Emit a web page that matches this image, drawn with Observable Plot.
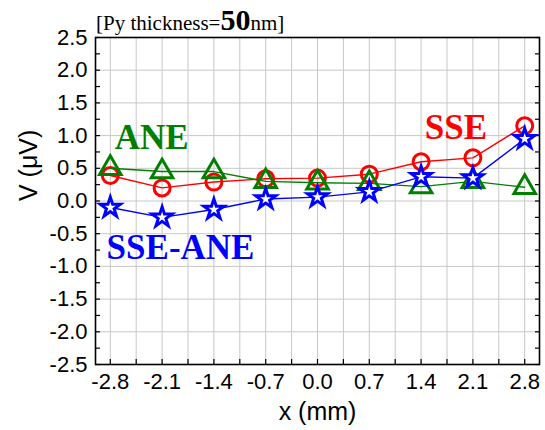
<!DOCTYPE html>
<html><head><meta charset="utf-8">
<script src="https://cdn.jsdelivr.net/npm/d3@7"></script>
<script src="https://cdn.jsdelivr.net/npm/@observablehq/plot@0.6"></script>
<style>
body{margin:0;background:#fff;}
#chart svg{display:block;}
</style></head>
<body><div id="chart"></div>
<script>
// positions along x (mm)
const xs = [-2.8, -2.1, -1.4, -0.7, 0.0, 0.7, 1.4, 2.1, 2.8];
// V (µV)
const sse    = [0.39, 0.20, 0.29, 0.34, 0.35, 0.41, 0.60, 0.66, 1.15];
const ane    = [0.50, 0.45, 0.45, 0.30, 0.28, 0.27, 0.22, 0.30, 0.21];
const sseAne = [-0.10, -0.25, -0.13, 0.03, 0.06, 0.14, 0.37, 0.35, 0.95];

const xTickLabels = xs;
const xGrid = d3.range(-8, 9).map(i => +(i * 0.35).toFixed(2));
const yTickLabels = [-2.5, -2.0, -1.5, -1.0, -0.5, 0.0, 0.5, 1.0, 1.5, 2.0, 2.5];
const yMinor = d3.range(-10, 11).map(i => i * 0.25);

const xTitle = "x (mm)";
const yTitle = "V (μV)";
const seriesNames = ["SSE", "ANE", "SSE-ANE"];
const seriesColors = ["#ff0000", "#008000", "#0000ff"];
const labels = [
  {name: "ANE", x: -2.74, y: 0.97},
  {name: "SSE", x: 1.45, y: 1.12},
  {name: "SSE-ANE", x: -2.85, y: -0.71}
];

const rows = (vals, s) => xs.map((x, i) => ({x, v: vals[i], s}));
const dSSE = rows(sse, "SSE"), dANE = rows(ane, "ANE"), dDiff = rows(sseAne, "SSE-ANE");

const sans = "'Liberation Sans', Arial, sans-serif";
const serif = "'Liberation Serif', 'Times New Roman', serif";
const blank = () => "";

const plot = Plot.plot({
  width: 545, height: 430,
  marginLeft: 95, marginRight: 6, marginTop: 37, marginBottom: 66,
  style: {fontFamily: sans, fontSize: "22px", background: "white", overflow: "visible"},
  x: {domain: [-3, 3]},
  y: {domain: [-2.5, 2.5]},
  color: {domain: seriesNames, range: seriesColors},
  marks: [
    Plot.gridX(xGrid, {stroke: "#c8c8c8", strokeOpacity: 1, strokeWidth: 1}),
    Plot.gridY(yTickLabels, {stroke: "#c8c8c8", strokeOpacity: 1, strokeWidth: 1}),
    // inward ticks (no text)
    Plot.axisX(xGrid, {tickSize: -5, tickFormat: blank, label: null, strokeWidth: 1.2}),
    Plot.axisY(yMinor, {tickSize: -5, tickFormat: blank, label: null, strokeWidth: 1.2}),
    Plot.axisY(yMinor, {anchor: "right", tickSize: -5, tickFormat: blank, label: null, strokeWidth: 1.2}),
    // tick labels
    Plot.axisX(xTickLabels, {tickSize: 0, tickPadding: 9, tickFormat: d => d.toFixed(1), fontSize: 22,
      label: null, fill: "black"}),
    Plot.axisY(yTickLabels, {tickSize: 0, tickPadding: 8, tickFormat: d => d.toFixed(1), fontSize: 22,
      label: null, fill: "black"}),
    // axis titles
    Plot.text([xTitle], {frameAnchor: "bottom", lineAnchor: "middle", dy: 47, fontSize: 25, fontFamily: sans, fill: "black"}),
    Plot.text([yTitle], {frameAnchor: "left", dx: -67, rotate: -90, fontSize: 25, fontFamily: sans, fill: "black"}),
    Plot.frame({stroke: "black", strokeWidth: 1.6}),
    // SSE
    Plot.line(dSSE, {x: "x", y: "v", stroke: "s", strokeWidth: 1.4}),
    Plot.dot(dSSE, {x: "x", y: "v", stroke: "s", symbol: "circle", r: 8, strokeWidth: 3, fill: "none"}),
    // ANE
    Plot.line(dANE, {x: "x", y: "v", stroke: "s", strokeWidth: 1.4}),
    Plot.dot(dANE, {x: "x", y: "v", stroke: "s", symbol: "triangle", r: 8, strokeWidth: 3, fill: "none"}),
    // SSE-ANE
    Plot.line(dDiff, {x: "x", y: "v", stroke: "s", strokeWidth: 1.4}),
    Plot.dot(dDiff, {x: "x", y: "v", stroke: "s", symbol: "star", r: 6.3, strokeWidth: 3, fill: "white"}),
    // series annotations
    Plot.text(labels, {x: "x", y: "y", text: "name", fill: "name", textAnchor: "start", lineAnchor: "middle",
      fontFamily: serif, fontWeight: "bold", fontSize: 35})
  ]
});
document.getElementById("chart").appendChild(plot);

// title in the top margin
const svg = d3.select(plot);
const t = svg.append("text").attr("x", 96).attr("y", 30).attr("text-anchor", "start")
  .attr("font-family", serif).attr("font-size", 21).attr("fill", "black");
t.append("tspan").text("[Py thickness=");
t.append("tspan").attr("font-weight", "bold").attr("font-size", 30).text("50");
t.append("tspan").text("nm]");
</script>
</body></html>
